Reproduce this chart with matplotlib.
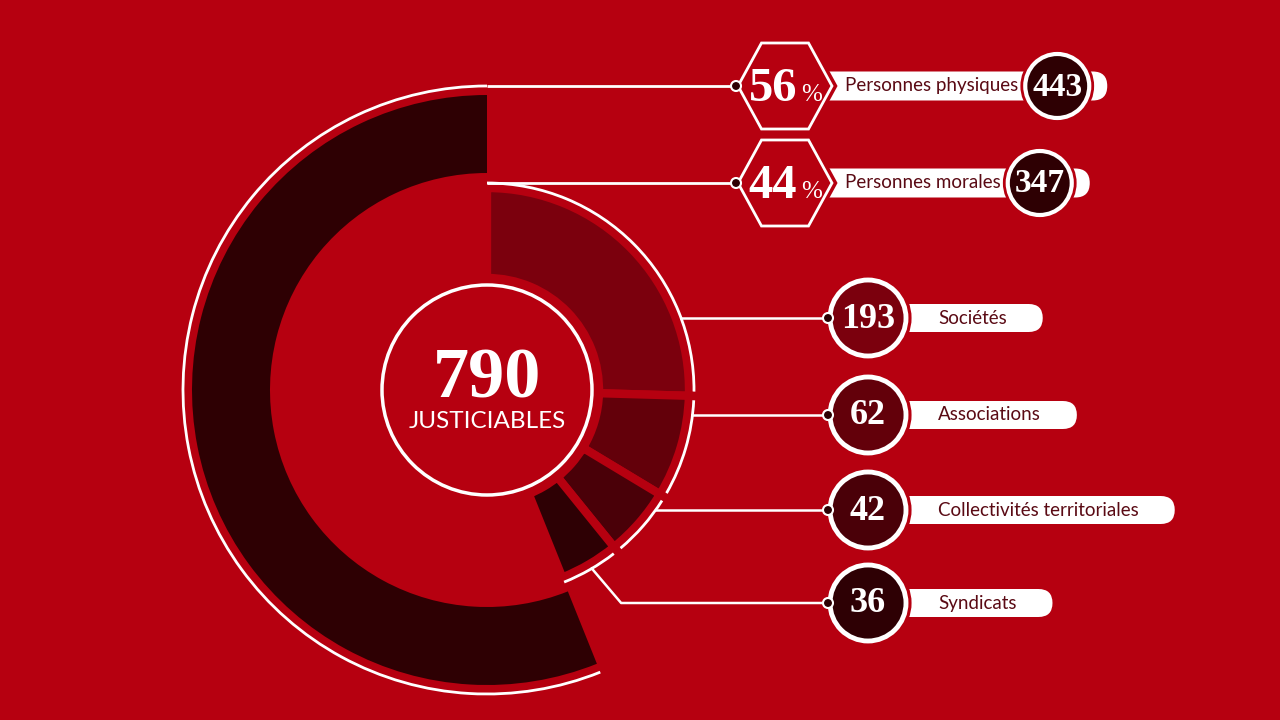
import numpy as np
import matplotlib.pyplot as plt
from matplotlib.patches import Wedge, Circle, Arc, Polygon, FancyBboxPatch

# données
total = 790
top_labels = ["Personnes physiques", "Personnes morales"]
top_counts = [443, 347]
top_pcts = [56, 44]
sub_labels = ["Sociétés", "Associations", "Collectivités territoriales", "Syndicats"]
sub_counts = [193, 62, 42, 36]

# couleurs / polices
BG = "#B60010"
DARK = "#2E0003"
sub_colors = ["#7B000D", "#63000A", "#4A0008", "#2E0004"]
TXT = "#5A0A14"
SERIF = "Liberation Serif"
SANS = "Lato"

fig = plt.figure(figsize=(12.8, 7.2), dpi=100, facecolor=BG)
ax = fig.add_axes([0, 0, 1, 1])
ax.set_xlim(0, 1280)
ax.set_ylim(0, 720)
ax.axis("off")
ax.set_facecolor(BG)

cx, cy = 487, 330
r_out_line = 304   # fine ligne blanche extérieure
r_in_line = 207    # fine ligne blanche intérieure

span_phys = 360 * top_counts[0] / total
span_mor = 360 * top_counts[1] / total

# anneau extérieur : personnes physiques
ax.add_patch(Wedge((cx, cy), 295, 90, 90 + span_phys, width=78,
                   facecolor=DARK, edgecolor="none"))
ax.add_patch(Arc((cx, cy), 2 * r_out_line, 2 * r_out_line,
                 theta1=90, theta2=90 + span_phys, color="white", lw=2))

# secteurs intérieurs : personnes morales (sens horaire depuis le haut)
start = 90
bounds = []
for k, (cnt, col) in enumerate(zip(sub_counts, sub_colors)):
    a = span_mor * cnt / sum(sub_counts)
    ax.add_patch(Wedge((cx, cy), 202, start - a, start, width=90,
                       facecolor=col, edgecolor=BG, lw=6))
    t1 = start - a + (0 if k == len(sub_counts) - 1 else 1.2)
    t2 = start - (0 if k == 0 else 1.2)
    ax.add_patch(Arc((cx, cy), 2 * r_in_line, 2 * r_in_line,
                     theta1=t1, theta2=t2, color="white", lw=2))
    bounds.append((start - a, start))
    start -= a

# cercle central
ax.add_patch(Circle((cx, cy), 105, facecolor="none", edgecolor="white", lw=2.5))
ax.text(cx, 322, str(total), fontsize=52, family=SERIF, fontweight="bold",
        color="white", ha="center", va="baseline")
ax.text(cx, 292, "JUSTICIABLES", fontsize=17.5, family=SANS, color="white",
        ha="center", va="baseline")

fig.canvas.draw()
renderer = fig.canvas.get_renderer()


def text_end(t):
    bb = t.get_window_extent(renderer=renderer)
    return bb.x1


def dot(x, y):
    ax.add_patch(Circle((x, y), 5, facecolor=DARK, edgecolor="white", lw=1.5, zorder=6))


# lignes du haut : hexagones
hex_x = 785
top_y = [cy + r_out_line, cy + r_in_line]
for lab, cnt, pct, yy in zip(top_labels, top_counts, top_pcts, top_y):
    ax.plot([cx, 736], [yy, yy], color="white", lw=2, solid_capstyle="butt")
    t = ax.text(845, yy, lab, fontsize=13.5, family=SANS, color=TXT,
                ha="left", va="center", zorder=5)
    xe = text_end(t)
    ccx = xe + 39
    ax.add_patch(FancyBboxPatch((810, yy - 14.5), ccx + 50 - 810, 29,
                                boxstyle="round,pad=0,rounding_size=14.5",
                                facecolor="white", edgecolor="none", zorder=3))
    ang = np.radians(np.arange(0, 360, 60))
    verts = np.column_stack([hex_x + 47 * np.cos(ang), yy + 43 * np.sin(ang) / np.sin(np.radians(60))])
    ax.add_patch(Polygon(verts, closed=True, facecolor=BG, edgecolor=BG, lw=7, zorder=4))
    ax.add_patch(Polygon(verts, closed=True, facecolor=BG, edgecolor="white", lw=2, zorder=4.5))
    ax.text(797, yy - 15, str(pct), fontsize=35, family=SERIF, fontweight="bold",
            color="white", ha="right", va="baseline", zorder=5)
    ax.text(801, yy - 15, "%", fontsize=18, family=SERIF,
            color="white", ha="left", va="baseline", zorder=5)
    ax.add_patch(Circle((ccx, yy), 32, facecolor=DARK, edgecolor=BG, lw=7, zorder=4))
    ax.add_patch(Circle((ccx, yy), 32, facecolor=DARK, edgecolor="white", lw=3, zorder=4.5))
    ax.text(ccx, yy - 1, str(cnt), fontsize=24, family=SERIF, fontweight="bold",
            color="white", ha="center", va="center", zorder=5)
    dot(736, yy)

# lignes des sous-catégories
sub_y = [402, 305, 210, 117]
circ_x = 868
for lab, cnt, col, yy, (a1, a2) in zip(sub_labels, sub_counts, sub_colors, sub_y, bounds):
    dy = yy - cy
    if abs(dy) < 0.85 * r_in_line:
        x0 = cx + np.sqrt(r_in_line ** 2 - dy ** 2)
        ax.plot([x0, 828], [yy, yy], color="white", lw=1.8)
    else:
        am = np.radians((a1 + a2) / 2)
        px, py = cx + r_in_line * np.cos(am), cy + r_in_line * np.sin(am)
        kx = px + (py - yy) * 0.85
        ax.plot([px, kx, 828], [py, yy, yy], color="white", lw=1.8)
    t = ax.text(938, yy, lab, fontsize=13.5, family=SANS, color=TXT,
                ha="left", va="center", zorder=5)
    xe = text_end(t)
    ax.add_patch(FancyBboxPatch((circ_x, yy - 14), xe + 36 - circ_x, 28,
                                boxstyle="round,pad=0,rounding_size=14",
                                facecolor="white", edgecolor="none", zorder=3))
    ax.add_patch(Circle((circ_x, yy), 38, facecolor=col, edgecolor=BG, lw=8, zorder=4))
    ax.add_patch(Circle((circ_x, yy), 38, facecolor=col, edgecolor="white", lw=3.5, zorder=4.5))
    ax.text(circ_x, yy - 1, str(cnt), fontsize=26, family=SERIF, fontweight="bold",
            color="white", ha="center", va="center", zorder=5)
    dot(828, yy)

fig.savefig("out.png", dpi=100, facecolor=BG)
